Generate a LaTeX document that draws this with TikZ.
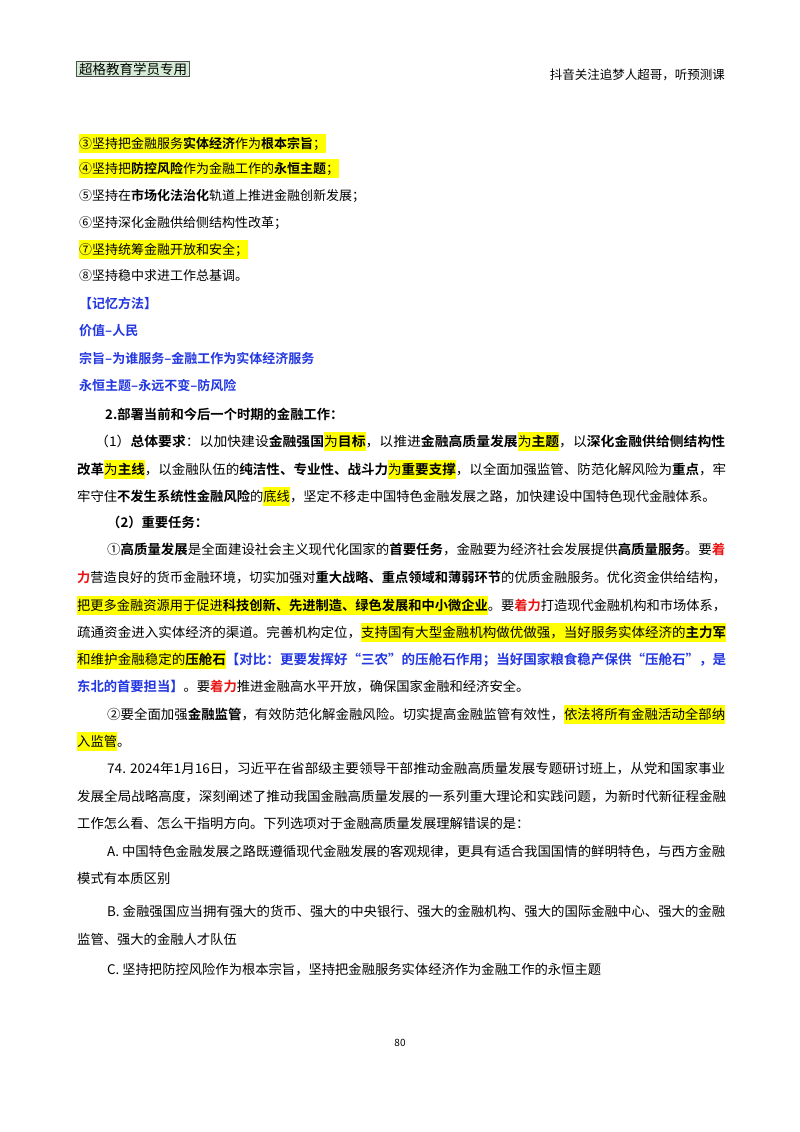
\documentclass[tikz,border=0pt]{standalone}
\usepackage{fontspec}
\usepackage{graphicx}
\setmainfont{Noto Sans CJK SC}[BoldFont={Noto Sans CJK SC Bold}]
\definecolor{hly}{RGB}{255,255,0}
\definecolor{tblue}{RGB}{35,55,225}
\definecolor{tred}{RGB}{235,20,20}
\definecolor{boxg}{RGB}{214,236,214}
\newcommand\hlx[1]{{\setlength\fboxsep{0pt}\colorbox{hly}{\rule[-5pt]{0pt}{19pt}#1}}}
\newcommand\rd[1]{\textcolor{tred}{\textbf{#1}}}
\newcommand\fullw[1]{\resizebox{649pt}{\height}{#1}}
\begin{document}
\begin{tikzpicture}[x=1pt,y=-1pt,
  ln/.style={anchor=base west,inner sep=0pt,font=\fontsize{13.3}{16}\selectfont},
  sm/.style={anchor=base west,inner sep=0pt,font=\fontsize{13}{16}\selectfont},
  bl/.style={anchor=base west,inner sep=0pt,font=\fontsize{13}{16}\selectfont\bfseries,text=tblue}]
\useasboundingbox (0,0) rectangle (800,1132);
\fill[white] (0,0) rectangle (800,1132);
\node[draw=black!70,line width=1.2pt,fill=boxg,inner xsep=2.5pt,inner ysep=1.5pt,anchor=west,font=\fontsize{13.5}{15}\selectfont] (hd) at (76,69) {超格教育学员专用};
\node[anchor=east,inner sep=0pt,font=\fontsize{12.5}{14}\selectfont] (hr) at (725,75) {抖音关注追梦人超哥，听预测课};
% top list
\node[sm] (l3) at (79,148) {\hlx{③坚持把金融服务\textbf{实体经济}作为\textbf{根本宗旨}；}};
\node[sm] (l4) at (79,173) {\hlx{④坚持把\textbf{防控风险}作为金融工作的\textbf{永恒主题}；}};
\node[sm] (l5) at (79,200) {⑤坚持在\textbf{市场化法治化}轨道上推进金融创新发展；};
\node[sm] (l6) at (79,227) {⑥坚持深化金融供给侧结构性改革；};
\node[sm] (l7) at (79,254) {\hlx{⑦坚持统筹金融开放和安全；}};
\node[sm] (l8) at (79,280) {⑧坚持稳中求进工作总基调。};
\node[bl] (m0) at (79,308) {【记忆方法】};
\node[bl] (m1) at (79,335) {价值–人民};
\node[bl] (m2) at (79,363) {宗旨–为谁服务–金融工作为实体经济服务};
\node[bl] (m3) at (79,390) {永恒主题–永远不变–防风险};
% section 2
\node[ln,font=\fontsize{13.3}{16}\selectfont\bfseries] (s2) at (105,419) {2.部署当前和今后一个时期的金融工作：};
\node[ln] (p1) at (95,446) {\resizebox{630pt}{\height}{（1）\textbf{总体要求}：以加快建设\textbf{金融强国}\hlx{为\textbf{目标}}，以推进\textbf{金融高质量发展}\hlx{为\textbf{主题}}，以\textbf{深化金融供给侧结构性}}};
\node[ln] (p2) at (77,474) {\fullw{\textbf{改革}\hlx{为\textbf{主线}}，以金融队伍的\textbf{纯洁性、专业性、战斗力}\hlx{为\textbf{重要支撑}}，以全面加强监管、防范化解风险为\textbf{重点}，牢}};
\node[ln] (p3) at (77,501) {牢守住\textbf{不发生系统性金融风险}的\hlx{底线}，坚定不移走中国特色金融发展之路，加快建设中国特色现代金融体系。};
\node[ln,font=\fontsize{13.3}{16}\selectfont\bfseries] (q0) at (107,527) {（2）重要任务：};
\node[ln] (q1) at (107,554) {\resizebox{618pt}{\height}{①\textbf{高质量发展}是全面建设社会主义现代化国家的\textbf{首要任务}，金融要为经济社会发展提供\textbf{高质量服务}。要\rd{着}}};
\node[ln] (q2) at (77,582) {\fullw{\rd{力}营造良好的货币金融环境，切实加强对\textbf{重大战略、重点领域和薄弱环节}的优质金融服务。优化资金供给结构，}};
\node[ln] (q3) at (77,610) {\fullw{\hlx{把更多金融资源用于促进\textbf{科技创新、先进制造、绿色发展和中小微企业}}。要\rd{着力}打造现代金融机构和市场体系，}};
\node[ln] (q4) at (77,637) {\fullw{疏通资金进入实体经济的渠道。完善机构定位，\hlx{支持国有大型金融机构做优做强，当好服务实体经济的\textbf{主力军}}}};
\node[ln] (q5) at (77,664) {\fullw{\hlx{和维护金融稳定的\textbf{压舱石}}\textcolor{tblue}{\textbf{【对比：更要发挥好“三农”的压舱石作用；当好国家粮食稳产保供“压舱石”，是}}}};
\node[ln] (q6) at (77,691) {\textcolor{tblue}{\textbf{东北的首要担当】}}。要\rd{着力}推进金融高水平开放，确保国家金融和经济安全。};
\node[ln] (q7) at (107,719) {\resizebox{618pt}{\height}{②要全面加强\textbf{金融监管}，有效防范化解金融风险。切实提高金融监管有效性，\hlx{依法将所有金融活动全部纳}}};
\node[ln] (q8) at (77,746) {\hlx{入监管}。};
% question
\node[ln] (t1) at (107,773) {\resizebox{618pt}{\height}{74. 2024年1月16日，习近平在省部级主要领导干部推动金融高质量发展专题研讨班上，从党和国家事业}};
\node[ln] (t2) at (77,801) {\fullw{发展全局战略高度，深刻阐述了推动我国金融高质量发展的一系列重大理论和实践问题，为新时代新征程金融}};
\node[ln] (t3) at (77,828) {工作怎么看、怎么干指明方向。下列选项对于金融高质量发展理解错误的是：};
\node[ln] (a1) at (107,856) {\resizebox{618pt}{\height}{A. 中国特色金融发展之路既遵循现代金融发展的客观规律，更具有适合我国国情的鲜明特色，与西方金融}};
\node[ln] (a2) at (77,883) {模式有本质区别};
\node[ln] (b1) at (107,916) {\resizebox{618pt}{\height}{B. 金融强国应当拥有强大的货币、强大的中央银行、强大的金融机构、强大的国际金融中心、强大的金融}};
\node[ln] (b2) at (77,944) {监管、强大的金融人才队伍};
\node[ln] (c1) at (107,974) {C. 坚持把防控风险作为根本宗旨，坚持把金融服务实体经济作为金融工作的永恒主题};
\node[inner sep=0pt,font=\fontsize{10}{12}\selectfont] (pg) at (400,1043) {80};
\end{tikzpicture}
\end{document}
